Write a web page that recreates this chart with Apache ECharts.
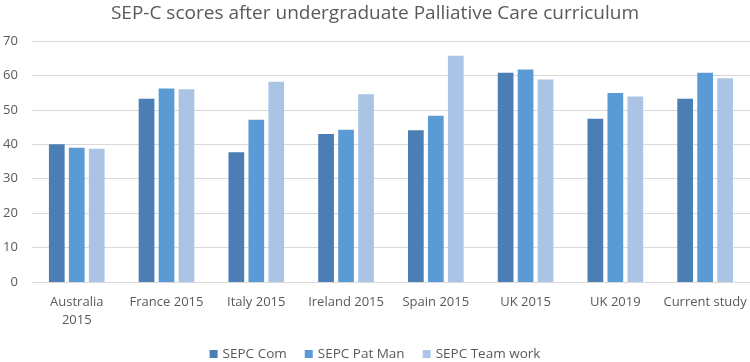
<!DOCTYPE html>
<html>
<head>
<meta charset="utf-8">
<script src="https://cdn.jsdelivr.net/npm/echarts@6/dist/echarts.min.js"></script>
<style>
  html, body { margin: 0; padding: 0; background: #fff; }
  #chart { width: 750px; height: 362px; }
</style>
</head>
<body>
<div id="chart"></div>
<script>
// data
var categories = ["Australia\n2015", "France 2015", "Italy 2015", "Ireland 2015",
  "Spain 2015", "UK 2015", "UK 2019", "Current study"];
var seriesNames = ["SEPC Com", "SEPC Pat Man", "SEPC Team work"];
var sepcCom = [40.0, 53.2, 37.7, 43.0, 44.1, 60.8, 47.4, 53.2];
var sepcPatMan = [39.0, 56.2, 47.1, 44.2, 48.3, 61.7, 54.9, 60.8];
var sepcTeamWork = [38.7, 56.0, 58.2, 54.5, 65.7, 58.8, 53.9, 59.2];

var colors = ["#4a7eb4", "#5b9bd5", "#abc4e6"];
var font = "Open Sans";

var myChart = echarts.init(document.getElementById("chart"));

function bar(name, data, color) {
  return {
    name: name,
    type: "bar",
    data: data,
    barGap: "27%",
    barCategoryGap: "38%",
    itemStyle: { color: color },
  };
}

var option = {
  backgroundColor: "#fff",
  animation: false,
  textStyle: { fontFamily: font },
  title: {
    text: "SEP-C scores after undergraduate Palliative Care curriculum",
    left: "center",
    top: -1,
    textStyle: {
      color: "#595959",
      fontFamily: font,
      fontSize: 19,
      fontWeight: "normal",
    },
  },
  legend: {
    bottom: -4,
    left: "center",
    icon: "rect",
    itemWidth: 8,
    itemHeight: 8,
    itemGap: 18,
    textStyle: { color: "#595959", fontSize: 13.5, fontFamily: font },
    data: seriesNames,
  },
  grid: {
    top: 41,
    bottom: 80,
    left: 30,
    right: 0,
  },
  xAxis: {
    type: "category",
    data: categories,
    axisLine: { lineStyle: { color: "#d9d9d9" } },
    axisTick: { show: false },
    axisLabel: {
      color: "#595959",
      fontSize: 13,
      margin: 11,
      lineHeight: 18,
      interval: 0,
      fontFamily: font,
    },
  },
  yAxis: {
    type: "value",
    min: 0,
    max: 70,
    interval: 10,
    axisLine: { show: false },
    axisTick: { show: false },
    axisLabel: { color: "#595959", fontSize: 13, margin: 14, fontFamily: font },
    splitLine: { lineStyle: { color: "#d9d9d9" } },
  },
  series: [
    bar(seriesNames[0], sepcCom, colors[0]),
    bar(seriesNames[1], sepcPatMan, colors[1]),
    bar(seriesNames[2], sepcTeamWork, colors[2]),
  ],
};

myChart.setOption(option);
</script>
</body>
</html>
